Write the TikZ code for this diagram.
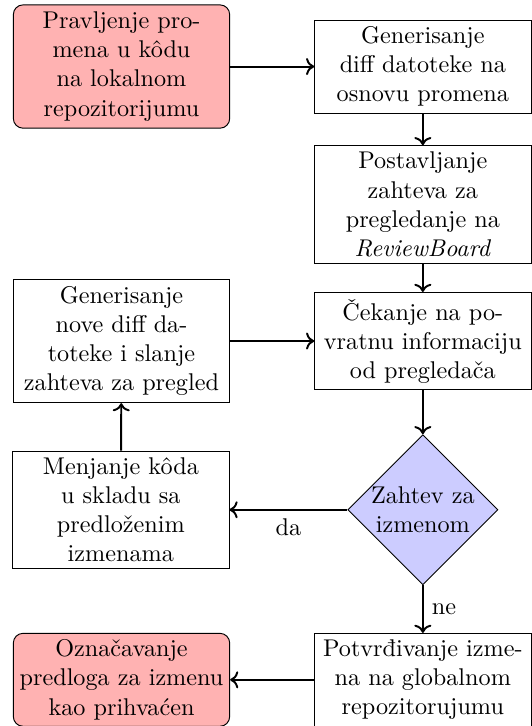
\documentclass[tikz,border=0pt]{standalone}
\usepackage{tikz}
\usetikzlibrary{arrows.meta}
\usetikzlibrary{positioning}
\usetikzlibrary{shapes.geometric}

\begin{document}
\begin{tikzpicture}[
    node distance=1.22cm,
    box/.style={
        draw, rectangle,
        text width=3cm,
        inner xsep=2pt, inner ysep=2.7pt,
        align=center
    },
    endbox/.style={
        box, rounded corners, fill=red!30
    },
    choice/.style={
        draw, diamond, aspect=1,
        fill=blue!20, inner sep=0pt,
        minimum width=2.18cm, minimum height=2.18cm,
        align=center
    }
]
\useasboundingbox (0,0) rectangle (7.71,-10.54);
\node[endbox, minimum height=1.79cm] (start) at (1.764,-0.966) {
    Pravljenje pro-\\mena u kôdu\\na lokalnom\\repozitorijumu
};
\node[box, right=of start] (gendiff) {
    Generisanje\\diff datoteke na\\osnovu promena
};
\node[box, below=0.46cm of gendiff] (review) {
    Postavljanje\\zahteva za\\pregledanje na\\\textit{ReviewBoard}
};
\node[box, below=0.41cm of review] (waiting) {
    Čekanje na po-\\vratnu informaciju\\od pregledača
};
\node[box, left=of waiting, minimum height=1.79cm] (newdiff) {
    Generisanje\\nove diff da-\\toteke i slanje\\zahteva za pregled
};
\node[choice, below=0.64cm of waiting] (decision) {
    Zahtev za\\izmenom
};
\node[box, left=1.71cm of decision] (revise) {
    Menjanje kôda\\u skladu sa\\predloženim\\izmenama
};
\node[box, below=0.69cm of decision] (commit) {
    Potvrđivanje izme-\\na na globalnom\\repozitorujumu
};
\node[endbox, left=of commit] (accepted) {
    Označavanje\\predloga za izmenu\\kao prihvaćen
};
% tok pregleda koda
\draw[->, thick] (start) -- (gendiff);
\draw[->, thick] (gendiff) -- (review);
\draw[->, thick] (review) -- (waiting);
\draw[->, thick] (waiting) -- (decision);
\draw[->, thick] (decision) -- node[below] {da} (revise);
\draw[->, thick] (revise) -- (newdiff);
\draw[->, thick] (newdiff) -- (waiting);
\draw[->, thick] (decision) -- node[right] {ne} (commit);
\draw[->, thick] (commit) -- (accepted);
\end{tikzpicture}
\end{document}
